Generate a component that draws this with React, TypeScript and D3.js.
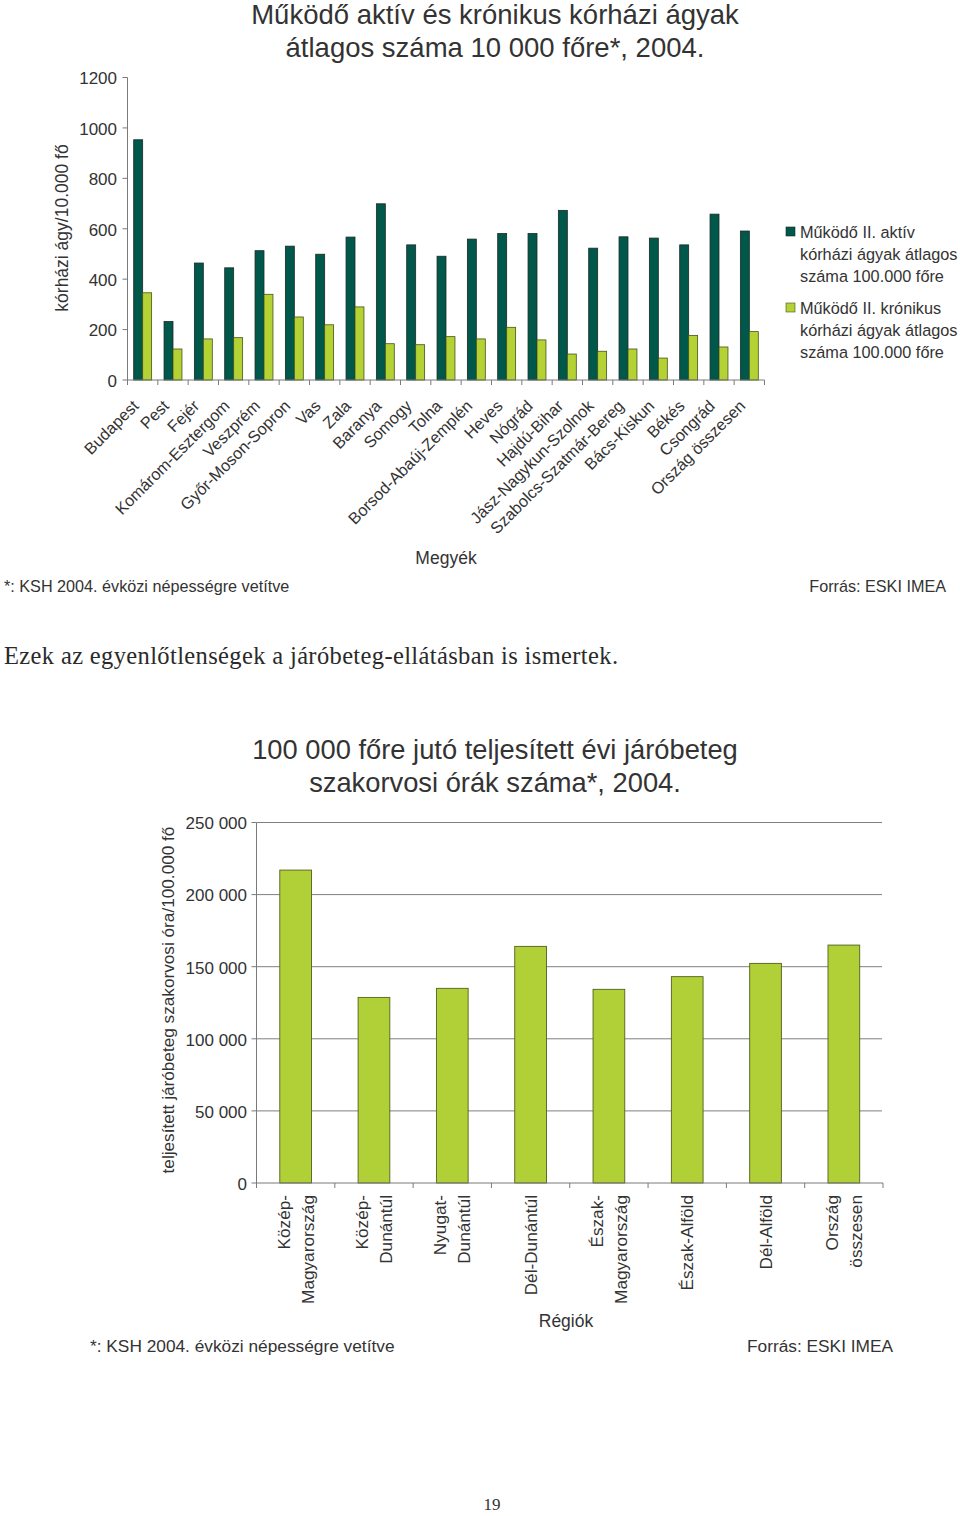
import React from "react";
import * as d3 from "d3";

const counties = [
  "Budapest", "Pest", "Fejér", "Komárom-Esztergom", "Veszprém", "Győr-Moson-Sopron",
  "Vas", "Zala", "Baranya", "Somogy", "Tolna", "Borsod-Abaúj-Zemplén", "Heves", "Nógrád",
  "Hajdú-Bihar", "Jász-Nagykun-Szolnok", "Szabolcs-Szatmár-Bereg", "Bács-Kiskun", "Békés",
  "Csongrád", "Ország összesen",
];
const activeBeds = [953, 232, 464, 445, 513, 531, 499, 567, 699, 536, 491, 559, 581, 581, 673, 523, 568, 563, 536, 658, 591];
const chronicBeds = [346, 123, 163, 168, 340, 250, 219, 290, 144, 140, 172, 163, 209, 159, 103, 114, 123, 87, 177, 131, 192];
const bedTicks = [0, 200, 400, 600, 800, 1000, 1200];

const regions = [
  "Közép-Magyarország", "Közép-Dunántúl", "Nyugat-Dunántúl", "Dél-Dunántúl",
  "Észak-Magyarország", "Észak-Alföld", "Dél-Alföld", "Ország összesen",
];
const regionLines = [
  ["Közép-", "Magyarország"], ["Közép-", "Dunántúl"], ["Nyugat-", "Dunántúl"], ["Dél-Dunántúl"],
  ["Észak-", "Magyarország"], ["Észak-Alföld"], ["Dél-Alföld"], ["Ország", "összesen"],
];
const outpatientHours = [217000, 128700, 135000, 164100, 134300, 143100, 152300, 165000];
const hourTicks = [0, 50000, 100000, 150000, 200000, 250000];

const FONT = "'Liberation Sans', Arial, sans-serif";
const SERIF = "'Liberation Serif', 'DejaVu Serif', serif";
const TEXT = "#333";
const AXIS = "#7a7a7a";
const DARK = "#00584a";
const LIGHT = "#b4d234";

const huFormat = d3.formatLocale({ decimal: ",", thousands: " ", grouping: [3], currency: ["", ""] }).format(",");

const BedsChart = () => {
  const x = d3.scaleBand<string>().domain(counties).range([127.5, 764.5]);
  const y = d3.scaleLinear().domain([0, 1200]).range([380, 77.5]);
  const inner = d3.scaleBand<string>().domain(["a", "k"]).range([6.2, x.bandwidth() - 6.2]);
  const bw = inner.bandwidth();
  const boundaries = [...counties.map((c) => x(c)!), x.range()[1]];

  return (
    <g fontFamily={FONT} fill={TEXT}>
      <text x={495} y={24} fontSize={27.5} textAnchor="middle">Működő aktív és krónikus kórházi ágyak</text>
      <text x={495} y={57} fontSize={27.5} textAnchor="middle">átlagos száma 10 000 főre*, 2004.</text>

      {counties.map((c, i) => (
        <g key={c}>
          <rect x={x(c)! + inner("a")!} y={y(activeBeds[i])} width={bw} height={y(0) - y(activeBeds[i])}
            fill={DARK} stroke="#1c2a24" strokeWidth={0.8} />
          <rect x={x(c)! + inner("k")!} y={y(chronicBeds[i])} width={bw} height={y(0) - y(chronicBeds[i])}
            fill={LIGHT} stroke="#46521c" strokeWidth={0.8} />
        </g>
      ))}

      <line x1={x.range()[0]} x2={x.range()[0]} y1={y(1200)} y2={y(0)} stroke={AXIS} />
      <line x1={x.range()[0]} x2={x.range()[1]} y1={y(0)} y2={y(0)} stroke={AXIS} />
      {bedTicks.map((t) => (
        <g key={t}>
          <line x1={x.range()[0] - 5} x2={x.range()[0]} y1={y(t)} y2={y(t)} stroke={AXIS} />
          <text x={117} y={y(t)} dy="0.4em" fontSize={17} textAnchor="end">{t}</text>
        </g>
      ))}
      {boundaries.map((b, i) => (
        <line key={i} x1={b} x2={b} y1={y(0)} y2={y(0) + 5} stroke={AXIS} />
      ))}
      {counties.map((c) => (
        <text key={c} transform={`translate(${x(c)! + x.bandwidth() / 2 - 3},${407}) rotate(-45)`}
          fontSize={16.3} textAnchor="end">{c}</text>
      ))}

      <text transform="translate(68,228) rotate(-90)" fontSize={17.5} textAnchor="middle">kórházi ágy/10.000 fő</text>
      <text x={446} y={564} fontSize={17.5} textAnchor="middle">Megyék</text>

      <rect x={786} y={227} width={9} height={9} fill={DARK} stroke="#1c2a24" strokeWidth={0.6} />
      <text x={800} y={238} fontSize={16.3}>Működő II. aktív</text>
      <text x={800} y={260} fontSize={16.3}>kórházi ágyak átlagos</text>
      <text x={800} y={282} fontSize={16.3}>száma 100.000 főre</text>
      <rect x={786} y={303} width={9} height={9} fill={LIGHT} stroke="#46521c" strokeWidth={0.6} />
      <text x={800} y={314} fontSize={16.3}>Működő II. krónikus</text>
      <text x={800} y={336} fontSize={16.3}>kórházi ágyak átlagos</text>
      <text x={800} y={358} fontSize={16.3}>száma 100.000 főre</text>

      <text x={4} y={592} fontSize={16.2}>*: KSH 2004. évközi népességre vetítve</text>
      <text x={946} y={592} fontSize={16.2} textAnchor="end">Forrás: ESKI IMEA</text>
    </g>
  );
};

const OutpatientChart = () => {
  const x = d3.scaleBand<string>().domain(regions).range([256.5, 883]).paddingInner(0.595).paddingOuter(0.2975);
  const bands = d3.scaleBand<string>().domain(regions).range([256.5, 883]);
  const y = d3.scaleLinear().domain([0, 250000]).range([1183, 822.5]);
  const boundaries = [...regions.map((r) => bands(r)!), bands.range()[1]];

  return (
    <g fontFamily={FONT} fill={TEXT}>
      <text x={495} y={759} fontSize={27.3} textAnchor="middle">100 000 főre jutó teljesített évi járóbeteg</text>
      <text x={495} y={792} fontSize={27.3} textAnchor="middle">szakorvosi órák száma*, 2004.</text>

      {hourTicks.filter((t) => t > 0).map((t) => (
        <line key={t} x1={256.5} x2={882} y1={y(t)} y2={y(t)} stroke="#7f7f7f" />
      ))}
      {regions.map((r, i) => (
        <rect key={r} x={x(r)} y={y(outpatientHours[i])} width={x.bandwidth()} height={y(0) - y(outpatientHours[i])}
          fill="#b1cf36" stroke="#52601f" strokeWidth={0.9} />
      ))}
      <line x1={256.5} x2={256.5} y1={y(250000)} y2={y(0)} stroke={AXIS} />
      <line x1={256.5} x2={883} y1={y(0)} y2={y(0)} stroke={AXIS} />
      {hourTicks.map((t) => (
        <g key={t}>
          <line x1={251.5} x2={256.5} y1={y(t)} y2={y(t)} stroke={AXIS} />
          <text x={247} y={y(t)} dy="0.4em" fontSize={17} textAnchor="end">{huFormat(t)}</text>
        </g>
      ))}
      {boundaries.map((b, i) => (
        <line key={i} x1={b} x2={b} y1={y(0)} y2={y(0) + 5} stroke={AXIS} />
      ))}
      {regions.map((r, i) => {
        const cx = bands(r)! + bands.bandwidth() / 2;
        const lines = regionLines[i];
        return lines.map((ln, j) => {
          const off = (j - (lines.length - 1) / 2) * 24 + 6;
          return (
            <text key={r + j} transform={`translate(${cx + off},1195) rotate(-90)`} fontSize={17.2} textAnchor="end">{ln}</text>
          );
        });
      })}

      <text transform="translate(174,1000) rotate(-90)" fontSize={17.2} textAnchor="middle">teljesített járóbeteg szakorvosi óra/100.000 fő</text>
      <text x={566} y={1327} fontSize={17.5} textAnchor="middle">Régiók</text>
      <text x={90} y={1352} fontSize={17.3}>*: KSH 2004. évközi népességre vetítve</text>
      <text x={893} y={1352} fontSize={17.3} textAnchor="end">Forrás: ESKI IMEA</text>
    </g>
  );
};

export default function App() {
  return (
    <svg width={960} height={1516} style={{ position: "absolute", left: 0, top: 0, background: "#fff" }}>
      <rect width={960} height={1516} fill="#fff" />
      <BedsChart />
      <text x={4} y={664} fontFamily={SERIF} fontSize={24.5} fill="#2a2a2a" textLength={614} lengthAdjust="spacing">
        Ezek az egyenlőtlenségek a járóbeteg-ellátásban is ismertek.
      </text>
      <OutpatientChart />
      <text x={492} y={1510} fontFamily={SERIF} fontSize={17} fill="#333" textAnchor="middle">19</text>
    </svg>
  );
}
